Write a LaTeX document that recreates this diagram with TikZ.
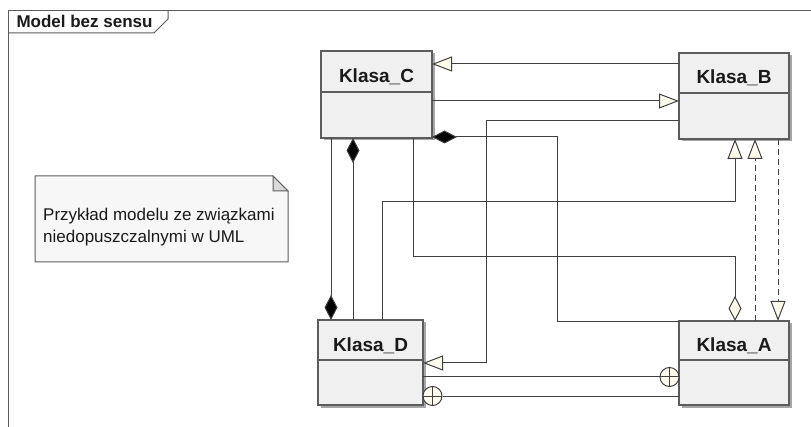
\documentclass[tikz,border=0pt]{standalone}
\usepackage{fontspec}
\setmainfont{Liberation Sans}
\usetikzlibrary{arrows.meta,calc,shadows}
\definecolor{ln}{HTML}{404040}
\definecolor{bd}{HTML}{5C5C5C}
\definecolor{fillc}{HTML}{F0F0F0}
\definecolor{notec}{HTML}{F7F7F7}
\definecolor{ivo}{HTML}{FFFCEE}
\definecolor{txt}{HTML}{1A1A1A}
\begin{document}
\begin{tikzpicture}[x=1pt,y=-1pt,
  cls/.style={draw=bd, fill=fillc, line width=1.2pt, inner sep=0pt, outer sep=0pt,
    drop shadow={shadow xshift=2.5pt, shadow yshift=-2.5pt, fill=black, opacity=.35}},
  divline/.style={draw=bd, line width=1.2pt},
  cname/.style={font=\bfseries\fontsize{19}{20}\selectfont, text=txt, anchor=base},
  conn/.style={draw=ln, line width=1pt},
  gen/.style={conn, -{Triangle[length=20pt, width=15pt, fill=ivo]}},
  comp/.style={conn, {Diamond[length=25pt, width=13pt, fill=black]}-},
  compend/.style={conn, -{Diamond[length=25pt, width=13pt, fill=black]}},
  agg/.style={conn, -{Diamond[length=25pt, width=13pt, fill=ivo]}},
  dashline/.style={dash pattern=on 6pt off 4pt},
  cplus/.style={circle, draw=ln, fill=ivo, line width=1pt, minimum size=19pt, inner sep=0pt,
    path picture={\draw[ln, line width=1pt] (path picture bounding box.north) -- (path picture bounding box.south)
      (path picture bounding box.west) -- (path picture bounding box.east);}}
]
\useasboundingbox (0,0) rectangle (811,427);
\fill[white] (0,0) rectangle (811,427);

% frame
\draw[bd, line width=1pt] (8,427) -- (8,11) -- (811,11);
\draw[bd, line width=1pt] (8,33) -- (154,33) -- (168,19) -- (168,11);
\node[font=\bfseries\fontsize{17}{20}\selectfont, text=txt, anchor=base west] (title) at (13,28) {Model bez sensu};

% note
\draw[bd, fill=notec, line width=1pt] (35,176) -- (273,176) -- (288,191) -- (288,262) -- (35,262) -- cycle;
\draw[bd, fill=fillc!80!gray, line width=1pt] (273,176) -- (273,191) -- (288,191) -- cycle;
\node[font=\fontsize{17}{22}\selectfont, text=txt, anchor=base west, align=left, inner sep=0pt] (note) at (43,243)
  {Przykład modelu ze związkami\\niedopuszczalnymi w UML};

% classes
\node[cls, minimum width=111pt, minimum height=87pt] (C) at (376.5,94.5) {};
\draw[divline] ($(C.north west)+(0,41)$) -- ($(C.north east)+(0,41)$);
\node[cname] (Cn) at ($(C.north)+(0,32)$) {Klasa\_C};

\node[cls, minimum width=110pt, minimum height=86pt] (B) at (734,96) {};
\draw[divline] ($(B.north west)+(0,40)$) -- ($(B.north east)+(0,40)$);
\node[cname] (Bn) at ($(B.north)+(0,31)$) {Klasa\_B};

\node[cls, minimum width=105pt, minimum height=85pt] (D) at (370.5,362.5) {};
\draw[divline] ($(D.north west)+(0,40)$) -- ($(D.north east)+(0,40)$);
\node[cname] (Dn) at ($(D.north)+(0,32)$) {Klasa\_D};

\node[cls, minimum width=110pt, minimum height=84pt] (A) at (734,363) {};
\draw[divline] ($(A.north west)+(0,39)$) -- ($(A.north east)+(0,39)$);
\node[cname] (An) at ($(A.north)+(0,31)$) {Klasa\_A};

% connectors
\draw[gen] ($(B.north west)+(0,11)$) -- ($(C.north east)+(0,13)$);
\draw[gen] ($(C.north east)+(0,50)$) -- ($(B.north west)+(0,48)$);
\draw[gen] ($(B.north west)+(0,68)$) -- ++(-193,0) |- ($(D.north east)+(0,43)$);
\draw[comp] ($(C.north east)+(0,86)$) -- ++(125,0) |- ($(A.north west)+(0,1)$);
\draw[compend] ($(C.south west)+(10,0)$) -- ($(D.north west)+(13,0)$);
\draw[comp] ($(C.south west)+(32,0)$) -- ($(D.north west)+(35,0)$);
\draw[gen] ($(D.north west)+(64,0)$) -- ++(0,-118) -| ($(B.south west)+(56,0)$);
\draw[agg] ($(C.south west)+(92,0)$) -- ++(0,119) -| ($(A.north west)+(56,0)$);
\draw[gen, dashline] ($(A.north west)+(76,0)$) -- ($(B.south west)+(76,0)$);
\draw[gen, dashline] ($(B.south west)+(99,0)$) -- ($(A.north west)+(99,0)$);
\node[cplus] (p1) at ($(A.north west)+(-9.5,56)$) {};
\draw[conn] ($(D.north east)+(0,57)$) -- (p1.west);
\node[cplus] (p2) at ($(D.north east)+(9.5,76)$) {};
\draw[conn] (p2.east) -- ($(A.north west)+(0,75)$);
\end{tikzpicture}
\end{document}
